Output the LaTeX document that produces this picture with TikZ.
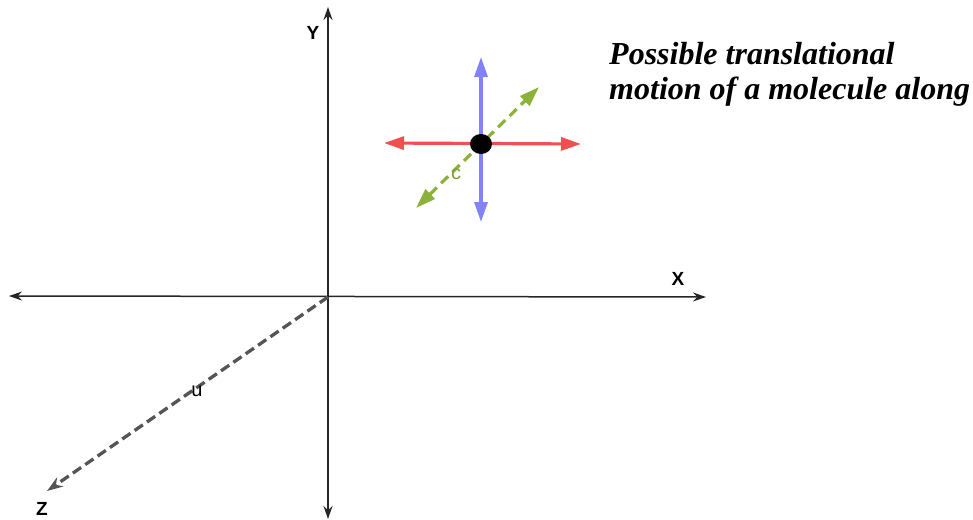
\documentclass[tikz,border=0pt]{standalone}
\usepackage{fontspec}
\setmainfont{Liberation Serif}
\setsansfont{Liberation Sans}
\usetikzlibrary{shapes.geometric, arrows.meta, positioning}
\definecolor{axisgrey}{RGB}{85, 85, 85}
\definecolor{motionred}{RGB}{240, 80, 80}
\definecolor{motionblue}{RGB}{130, 130, 250}
\definecolor{motiongreen}{RGB}{140, 178, 60}

\begin{document}
\begin{tikzpicture}[x=1pt, y=-1pt,
            axis/.style={{Stealth[length=13pt, width=9pt]}-{Stealth[length=13pt, width=9pt]}, line width=1.5pt, black!85},
            motion/.style={{Triangle[length=20pt, width=13pt]}-{Triangle[length=20pt, width=13pt]}, line width=3.2pt},
            axislabel/.style={font={\fontsize{19}{19}\selectfont\sffamily\bfseries}, inner sep=0pt},
            smalllabel/.style={font={\fontsize{20}{20}\selectfont\sffamily}, inner sep=0pt}
        ]
            \useasboundingbox (0,0) rectangle (973,519);

            % axes
            \coordinate (origin) at (328,297);
            \coordinate (ytop) at (328,7);
            \coordinate (ybot) at (328,519);
            \coordinate (xleft) at (9,296);
            \coordinate (xright) at (706,297);
            \coordinate (zend) at (47,491);

            \draw[axis] (ybot) -- (ytop);
            \draw[axis] (xleft) -- (xright);
            \draw[-{Stealth[length=16pt, width=11pt]}, line width=3.3pt, axisgrey, dash pattern=on 10pt off 5pt] (origin) -- (zend);

            \node[axislabel] (ylabel) at (313,33) {Y};
            \node[axislabel] (xlabel) at (678,279) {X};
            \node[axislabel] (zlabel) at (42,509) {Z};
            \node[smalllabel] (ulabel) at (197,391) {u};

            % molecule and its motions
            \coordinate (redl) at (384,143);
            \coordinate (redr) at (581,144);
            \coordinate (bluet) at (481,57);
            \coordinate (blueb) at (481,222);
            \coordinate (greenl) at (416,208);
            \coordinate (greenr) at (539,87);

            \draw[motion, motionblue] (blueb) -- (bluet);
            \draw[motion, motiongreen, dash pattern=on 10pt off 6pt] (greenl) -- (greenr);
            \draw[motion, motionred] (redl) -- (redr);
            \node[fill=black, ellipse, minimum width=22pt, minimum height=20pt, inner sep=0pt] (mol) at (481,144) {};
            \node[smalllabel, text=motiongreen!90!black] (clabel) at (456,174) {c};

            \node[anchor=north west, align=left, inner sep=0pt, font=\bfseries\itshape\fontsize{32}{35}\selectfont] (title) at (609,42) {Possible translational\\motion of a molecule along};
        \end{tikzpicture}
\end{document}
